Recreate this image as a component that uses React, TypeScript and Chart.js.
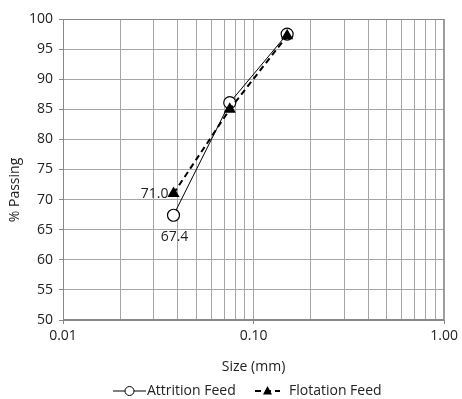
import React, { useEffect, useRef } from "react";
import { Chart, registerables } from "chart.js";

Chart.register(...registerables);

const sizes = [0.038, 0.075, 0.15];
const attritionFeed = [67.4, 86.1, 97.5];
const flotationFeed = [71.0, 85.0, 97.2];
const seriesNames = ["Attrition Feed", "Flotation Feed"];
const xTickValues = [0.01, 0.02, 0.03, 0.04, 0.05, 0.06, 0.07, 0.08, 0.09, 0.1, 0.2, 0.3, 0.4, 0.5, 0.6, 0.7, 0.8, 0.9, 1];
const xTickLabels: Record<string, string> = { "0.01": "0.01", "0.1": "0.10", "1": "1.00" };
const yTitle = "% Passing";
const xTitle = "Size (mm)";
const FONT = "'Open Sans', sans-serif";
const FS = 14;

const labelPlugin = {
  id: "customLabels",
  afterDraw(chart: any) {
    const ctx = chart.ctx;
    const xs = chart.scales.x;
    const ys = chart.scales.y;
    ctx.save();
    ctx.font = `${FS}px ${FONT}`;
    ctx.fillStyle = "#222";
    // y title
    ctx.save();
    ctx.translate(15, 190);
    ctx.rotate(-Math.PI / 2);
    ctx.textAlign = "center";
    ctx.textBaseline = "middle";
    ctx.fillText(yTitle, 0, 0);
    ctx.restore();
    // Flotation first point label (left of marker)
    ctx.textAlign = "right";
    ctx.textBaseline = "middle";
    ctx.fillText(flotationFeed[0].toFixed(1), xs.getPixelForValue(sizes[0]) - 5, ys.getPixelForValue(flotationFeed[0]));
    // Attrition first point label (below marker)
    ctx.textAlign = "center";
    ctx.fillText(attritionFeed[0].toFixed(1), xs.getPixelForValue(sizes[0]) + 1, ys.getPixelForValue(attritionFeed[0]) + 22);

    // Legend
    const ly = 391;
    ctx.strokeStyle = "#000";
    ctx.lineWidth = 1;
    ctx.setLineDash([]);
    ctx.beginPath();
    ctx.moveTo(113, ly);
    ctx.lineTo(146, ly);
    ctx.stroke();
    ctx.beginPath();
    ctx.arc(129.5, ly, 4.5, 0, Math.PI * 2);
    ctx.fillStyle = "#fff";
    ctx.fill();
    ctx.stroke();
    ctx.fillStyle = "#222";
    ctx.textAlign = "left";
    ctx.fillText(seriesNames[0], 147, ly);
    ctx.lineWidth = 2;
    ctx.setLineDash([6, 4]);
    ctx.beginPath();
    ctx.moveTo(255, ly);
    ctx.lineTo(280, ly);
    ctx.stroke();
    ctx.setLineDash([]);
    ctx.fillStyle = "#000";
    ctx.beginPath();
    ctx.moveTo(267.5, ly - 5);
    ctx.lineTo(272, ly + 3.5);
    ctx.lineTo(263, ly + 3.5);
    ctx.closePath();
    ctx.fill();
    ctx.fillStyle = "#222";
    ctx.fillText(seriesNames[1], 289, ly);
    ctx.restore();
  },
};

export default function App() {
  const ref = useRef<HTMLCanvasElement>(null);
  useEffect(() => {
    if (!ref.current) return;
    const chart = new Chart(ref.current, {
      type: "line",
      data: {
        datasets: [
          {
            label: seriesNames[0],
            data: sizes.map((x, i) => ({ x, y: attritionFeed[i] })),
            borderColor: "#000",
            borderWidth: 1,
            pointStyle: "circle",
            pointRadius: 6,
            pointBackgroundColor: "#fff",
            pointBorderColor: "#000",
            pointBorderWidth: 1.2,
            order: 1,
          },
          {
            label: seriesNames[1],
            data: sizes.map((x, i) => ({ x, y: flotationFeed[i] })),
            borderColor: "#000",
            borderWidth: 2,
            borderDash: [6, 4],
            pointStyle: "triangle",
            pointRadius: 7,
            pointBackgroundColor: "#000",
            pointBorderColor: "#000",
            pointBorderWidth: 0,
            order: 0,
          },
        ],
      },
      options: {
        animation: false,
        responsive: false,
        layout: { padding: { left: 0, right: 16, top: 19, bottom: 0 } },
        plugins: { legend: { display: false }, tooltip: { enabled: false } },
        scales: {
          x: {
            type: "logarithmic",
            min: 0.01,
            max: 1,
            afterBuildTicks: (scale: any) => {
              scale.ticks = xTickValues.map((v) => ({ value: v }));
            },
            afterFit: (scale: any) => {
              scale.height = 79;
            },
            ticks: {
              autoSkip: false,
              maxRotation: 0,
              padding: 4,
              color: "#222",
              font: { family: FONT, size: FS },
              callback: (v: any) => xTickLabels[String(v)] ?? "",
            },
            grid: {
              color: "#a6a6a6",
              lineWidth: 1,
              tickLength: 4,
              tickColor: (c: any) => (xTickLabels[String(c.tick?.value)] ? "#888" : "rgba(0,0,0,0)"),
            },
            border: { color: "#888", width: 1 },
            title: {
              display: true,
              text: xTitle,
              color: "#222",
              font: { family: FONT, size: FS },
              padding: { top: 0, bottom: 24 },
            },
          },
          y: {
            min: 50,
            max: 100,
            afterFit: (scale: any) => {
              scale.width = 63;
            },
            ticks: {
              stepSize: 5,
              padding: 6,
              color: "#222",
              font: { family: FONT, size: FS },
            },
            grid: { color: "#a6a6a6", lineWidth: 1, tickLength: 4, tickColor: "#888" },
            border: { color: "#888", width: 1 },
          },
        },
      },
      plugins: [
        labelPlugin,
        {
          id: "frame",
          beforeDatasetsDraw(chart: any) {
            const { ctx, chartArea: a } = chart;
            ctx.save();
            ctx.strokeStyle = "#888";
            ctx.lineWidth = 1;
            ctx.strokeRect(a.left + 0.5, a.top + 0.5, a.right - a.left - 1, a.bottom - a.top - 1);
            ctx.restore();
          },
        },
      ],
    } as any);
    return () => chart.destroy();
  }, []);
  return (
    <div style={{ position: "fixed", left: 0, top: 0, width: 462, height: 399, background: "#fff" }}>
      <canvas ref={ref} width={462} height={399} style={{ display: "block" }} />
    </div>
  );
}
